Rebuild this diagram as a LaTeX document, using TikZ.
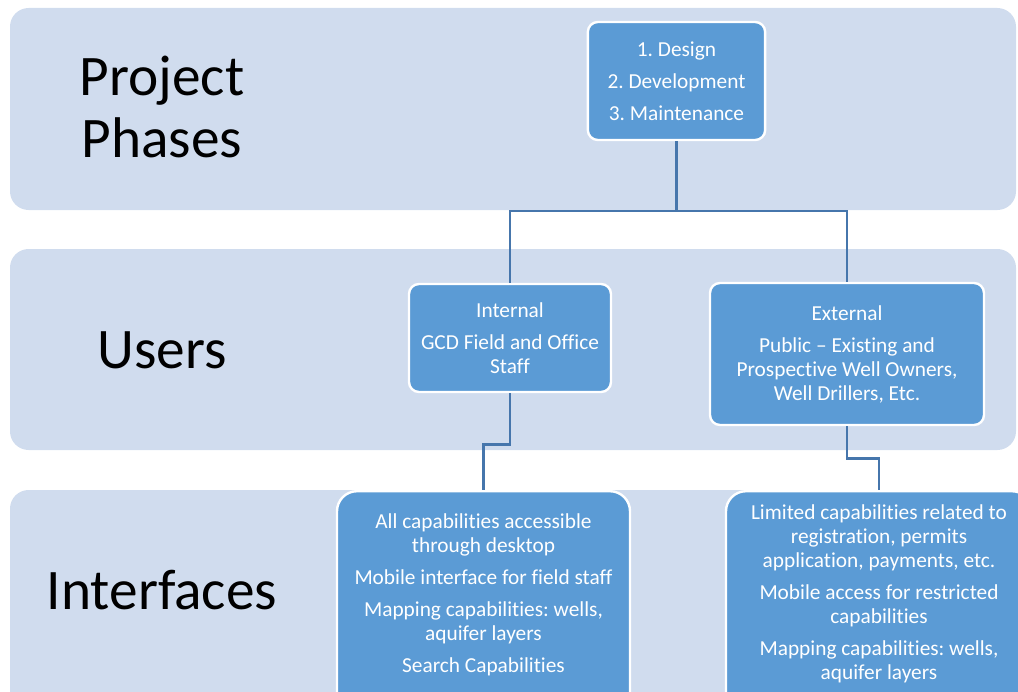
\documentclass[tikz,border=0pt]{standalone}
\usepackage{fontspec}
\setmainfont{Carlito}[Ligatures=NoCommon]
\usetikzlibrary{positioning, calc}
\definecolor{bandblue}{RGB}{208,220,238}
\definecolor{boxblue}{RGB}{91,155,213}
\definecolor{linkblue}{RGB}{70,118,172}
\frenchspacing

\begin{document}
\begin{tikzpicture}[x=0.75pt,y=-0.75pt]
		\tikzstyle{band} = [fill=bandblue, rounded corners=14pt]
		\tikzstyle{title} = [align=center, font=\fontsize{43}{47}\selectfont]
		\tikzstyle{box} = [draw=white, line width=1.8pt, fill=boxblue, rounded corners=7.5pt, text=white, align=center, font=\fontsize{16}{18}\selectfont]
		\tikzstyle{btext} = [text=white, align=center, inner sep=0pt, font=\fontsize{16}{18}\selectfont]
		\tikzstyle{link} = [linkblue, line width=2.1pt]
		\useasboundingbox (0,0) rectangle (1018,692);
		\clip (0,0) rectangle (1018,692);
		\fill[band] (10,8) rectangle (1016,210);
		\fill[band] (10,249) rectangle (1016,450);
		\fill[band] (10,490) rectangle (1016,740);
		
		\node[title] (phaseslbl) at (162,107) {Project\\Phases};
		\node[title] (userslbl) at (162,350) {Users};
		\node[title] (intflbl) at (162,590) {Interfaces};
		
		\node[box, minimum width=133pt, minimum height=88.5pt] (phases) at (676.5,81) {1. Design\\[6pt]2. Development\\[6pt]3. Maintenance};
		\node[box, minimum width=151.5pt, minimum height=81pt] (internal) at (510,338) {Internal\\[6pt]GCD Field and Office\\Staff};
		\node[box, minimum width=205.5pt, minimum height=106.5pt] (external) at (847,354) {External\\[6pt]Public -- Existing and\\Prospective Well Owners,\\Well Drillers, Etc.};
		\node[box, rounded corners=15pt, anchor=north, minimum width=219.75pt, minimum height=200pt] (intfint) at (483.5,490) {};
		\node[box, rounded corners=15pt, anchor=north, minimum width=229.5pt, minimum height=200pt] (intfext) at (879,490) {};
		\node[btext, below=17.5pt of intfint.north] (intfinttext) {All capabilities accessible\\through desktop\\[6pt]Mobile interface for field staff\\[6pt]Mapping capabilities: wells,\\aquifer layers\\[6pt]Search Capabilities};
		\node[btext, below=11pt of intfext.north] (intfexttext) {Limited capabilities related to\\registration, permits\\application, payments, etc.\\[6pt]Mobile access for restricted\\capabilities\\[6pt]Mapping capabilities: wells,\\aquifer layers};
		
		\coordinate (fork) at (676.5,211);
		\draw[link] (phases.south) -- (fork) -| (internal.north);
		\draw[link] (fork) -| (external.north);
		\draw[link] (internal.south) -- ++(0,51) -| (intfint.north);
		\draw[link] (external.south) -- ++(0,32) -| (intfext.north);
		\end{tikzpicture}
\end{document}
